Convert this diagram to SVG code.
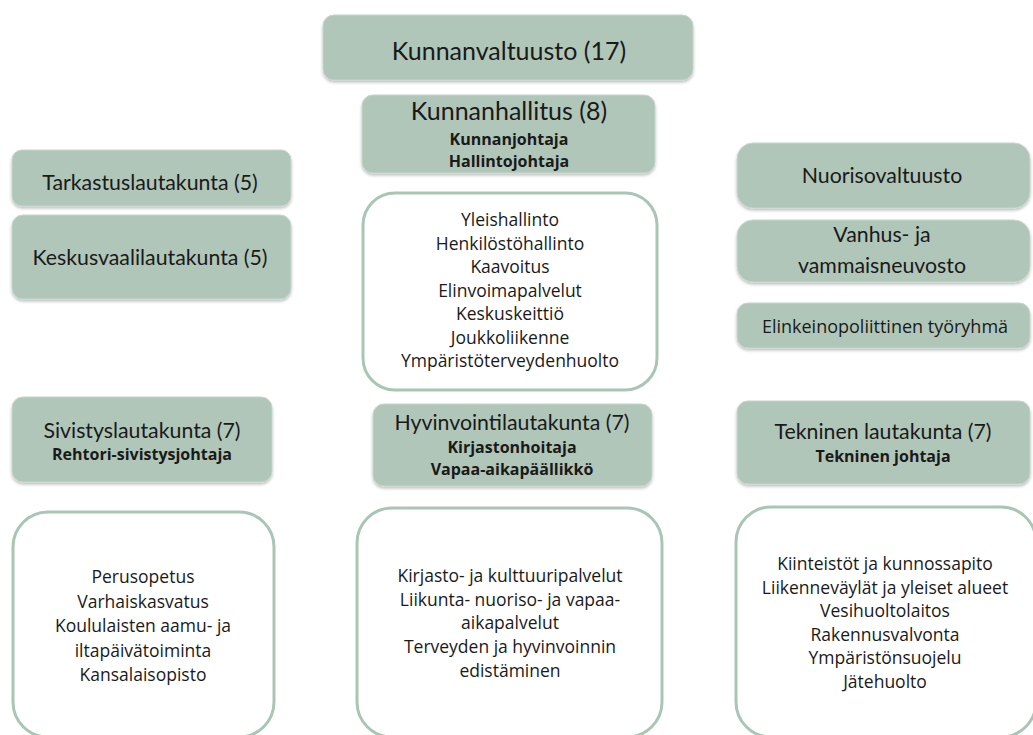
<svg xmlns="http://www.w3.org/2000/svg" width="1033" height="735" viewBox="0 0 1033 735">
<defs>
<filter id="sh" x="-5%" y="-5%" width="110%" height="120%">
<feDropShadow dx="0" dy="2" stdDeviation="1.5" flood-color="#000" flood-opacity="0.25"/>
</filter>
<style>
.g{fill:#b0c6b9;stroke:#c4d6cb;stroke-width:1;filter:url(#sh)}
.w{fill:#ffffff;stroke:#a9c6b5;stroke-width:3}
text{font-family:"Open Sans","Noto Sans","Liberation Sans",sans-serif;fill:#1a1a1a;text-anchor:middle}
.b{font-weight:bold;font-size:16px}
.t{font-family:Lato,"Open Sans",sans-serif;font-size:21.3px}
.h{font-family:Lato,"Open Sans",sans-serif;font-size:25px}
.s{font-size:17.5px}
</style>
</defs>
<rect width="1033" height="735" fill="#ffffff"/>
<g id="connectors"/>
<g id="kunnanvaltuusto">
<rect class="g" x="323" y="15" width="370" height="65" rx="11"/>
<text class="h" x="509" y="60">Kunnanvaltuusto (17)</text>
</g>
<g id="kunnanhallitus">
<rect class="g" x="362" y="95" width="293" height="78" rx="11"/>
<text class="h" x="509" y="120">Kunnanhallitus (8)</text>
<text class="b" x="509" y="145">Kunnanjohtaja</text>
<text class="b" x="509" y="167">Hallintojohtaja</text>
</g>
<g id="tarkastuslautakunta">
<rect class="g" x="12" y="150" width="279" height="56" rx="10"/>
<text class="t" x="150" y="190">Tarkastuslautakunta (5)</text>
</g>
<g id="keskusvaalilautakunta">
<rect class="g" x="12" y="215" width="279" height="84" rx="11"/>
<text class="t" x="150" y="265">Keskusvaalilautakunta (5)</text>
</g>
<g id="nuorisovaltuusto">
<rect class="g" x="737" y="143" width="293" height="65" rx="16"/>
<text class="t" x="882" y="183">Nuorisovaltuusto</text>
</g>
<g id="vanhusneuvosto">
<rect class="g" x="737" y="220" width="293" height="62" rx="16"/>
<text class="t" x="882" y="242">Vanhus- ja</text>
<text class="t" x="882" y="273">vammaisneuvosto</text>
</g>
<g id="elinkeinopoliittinen">
<rect class="g" x="737" y="303" width="293" height="45" rx="11"/>
<text x="885" y="333" style="font-size:18px">Elinkeinopoliittinen työryhmä</text>
</g>
<g id="hallinto-tehtavat">
<rect class="w" x="363" y="193" width="294" height="197" rx="32"/>
<text class="s" x="510" y="226">Yleishallinto</text>
<text class="s" x="510" y="249.5">Henkilöstöhallinto</text>
<text class="s" x="510" y="273">Kaavoitus</text>
<text class="s" x="510" y="296.5">Elinvoimapalvelut</text>
<text class="s" x="510" y="320">Keskuskeittiö</text>
<text class="s" x="510" y="343.5">Joukkoliikenne</text>
<text class="s" x="510" y="367">Ympäristöterveydenhuolto</text>
</g>
<g id="sivistyslautakunta">
<rect class="g" x="12" y="397" width="260" height="85" rx="11"/>
<text class="t" x="142" y="438">Sivistyslautakunta (7)</text>
<text class="b" x="142" y="460">Rehtori-sivistysjohtaja</text>
</g>
<g id="hyvinvointilautakunta">
<rect class="g" x="373" y="404" width="279" height="82" rx="11"/>
<text class="t" x="512" y="430">Hyvinvointilautakunta (7)</text>
<text class="b" x="512" y="453">Kirjastonhoitaja</text>
<text class="b" x="512" y="475">Vapaa-aikapäällikkö</text>
</g>
<g id="tekninen-lautakunta">
<rect class="g" x="737" y="401" width="293" height="83" rx="11"/>
<text class="t" x="883" y="439">Tekninen lautakunta (7)</text>
<text class="b" x="883" y="462">Tekninen johtaja</text>
</g>
<g id="sivistys-tehtavat">
<rect class="w" x="13" y="512" width="261" height="225" rx="35"/>
<text class="s" x="143" y="583">Perusopetus</text>
<text class="s" x="143" y="607.5">Varhaiskasvatus</text>
<text class="s" x="143" y="632">Koululaisten aamu- ja</text>
<text class="s" x="143" y="656.5">iltapäivätoiminta</text>
<text class="s" x="143" y="681">Kansalaisopisto</text>
</g>
<g id="hyvinvointi-tehtavat">
<rect class="w" x="357" y="508" width="305" height="229" rx="35"/>
<text class="s" x="510" y="582">Kirjasto- ja kulttuuripalvelut</text>
<text class="s" x="510" y="605.5">Liikunta- nuoriso- ja vapaa-</text>
<text class="s" x="510" y="629">aikapalvelut</text>
<text class="s" x="510" y="653">Terveyden ja hyvinvoinnin</text>
<text class="s" x="510" y="677">edistäminen</text>
</g>
<g id="tekninen-tehtavat">
<rect class="w" x="736" y="507" width="300" height="230" rx="35"/>
<text class="s" x="885" y="570">Kiinteistöt ja kunnossapito</text>
<text class="s" x="885" y="593.5">Liikenneväylät ja yleiset alueet</text>
<text class="s" x="885" y="617">Vesihuoltolaitos</text>
<text class="s" x="885" y="640.5">Rakennusvalvonta</text>
<text class="s" x="885" y="664">Ympäristönsuojelu</text>
<text class="s" x="885" y="687.5">Jätehuolto</text>
</g>
</svg>
